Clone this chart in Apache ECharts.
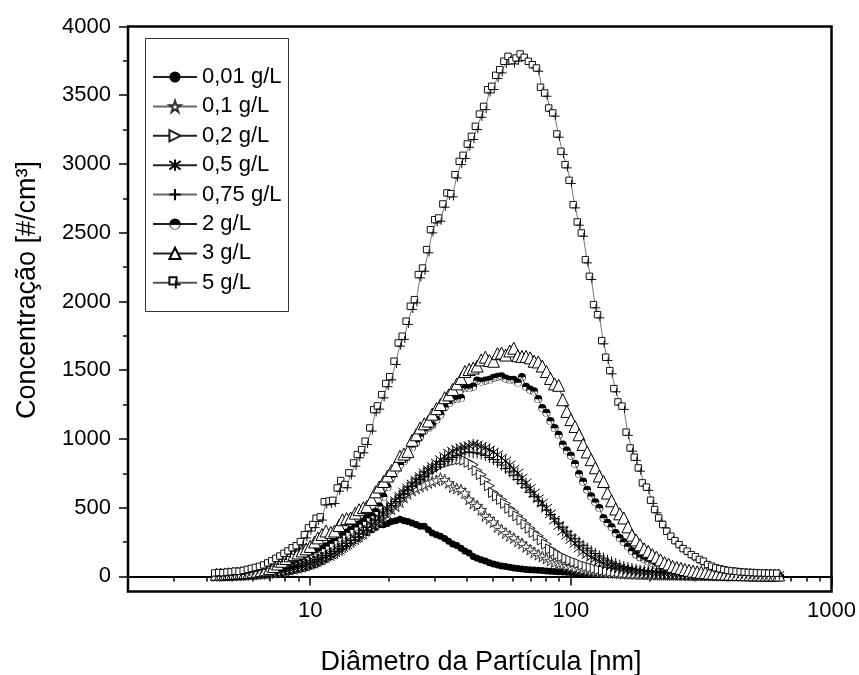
<!DOCTYPE html>
<html>
<head>
<meta charset="utf-8">
<script src="https://cdn.jsdelivr.net/npm/echarts@6/dist/echarts.min.js"></script>
<style>
html,body{margin:0;padding:0;background:#fff;}
#chart{width:859px;height:675px;}
</style>
</head>
<body>
<div id="chart"></div>
<script>
// Particle diameters [nm] (SMPS channels)
const diam = [
 4.37, 4.53, 4.70, 4.87, 5.05, 5.23, 5.42, 5.62, 5.83, 6.04,
 6.26, 6.49, 6.73, 6.98, 7.23, 7.50, 7.77, 8.06, 8.35, 8.66,
 8.98, 9.31, 9.65, 10.0, 10.4, 10.7, 11.1, 11.5, 12.0, 12.4,
 12.9, 13.3, 13.8, 14.3, 14.9, 15.4, 16.0, 16.5, 17.2, 17.8,
 18.4, 19.1, 19.8, 20.5, 21.3, 22.1, 22.9, 23.7, 24.6, 25.5,
 26.4, 27.4, 28.4, 29.4, 30.5, 31.6, 32.8, 34.0, 35.2, 36.5,
 37.9, 39.2, 40.7, 42.2, 43.7, 45.3, 47.0, 48.7, 50.5, 52.3,
 54.2, 56.2, 58.3, 60.4, 62.6, 64.9, 67.3, 69.8, 72.3, 75.0,
 77.7, 80.6, 83.5, 86.6, 89.8, 93.1, 96.5, 100.0, 103.7, 107.5,
 111.4, 115.5, 119.7, 124.1, 128.6, 133.4, 138.2, 143.3, 148.6, 154.0,
 159.6, 165.5, 171.5, 177.8, 184.3, 191.1, 198.1, 205.4, 212.9, 220.7,
 228.8, 237.1, 245.8, 254.8, 264.2, 273.8, 283.9, 294.3, 305.1, 316.2,
 327.8, 339.8, 352.3, 365.2, 378.6, 392.4, 406.8, 421.7, 437.1, 453.2,
 469.8, 487.0, 504.8, 523.3, 542.5, 562.3, 582.9, 604.3, 626.4
];

const c001 = [
 5, 6, 6, 8, 8, 10, 10, 12, 12, 14,
 15, 17, 18, 20, 22, 25, 28, 32, 36, 42,
 48, 56, 62, 73, 82, 95, 109, 125, 145, 165,
 190, 215, 235, 250, 265, 280, 310, 320, 340, 355,
 375, 375, 385, 400, 405, 415, 405, 400, 388, 378,
 365, 364, 340, 315, 303, 291, 275, 255, 235, 225,
 205, 185, 170, 145, 132, 121, 112, 100, 90, 82,
 75, 72, 66, 61, 57, 54, 50, 48, 46, 44,
 42, 40, 37, 35, 33, 31, 30, 28, 27, 26,
 25, 24, 23, 22, 21, 20, 19, 18, 17, 16,
 15, 15, 14, 13, 13, 12, 12, 11, 11, 10,
 10, 9, 9, 8, 8, 8, 7, 7, 7, 6,
 6, 6, 6, 5, 5, 5, 5, 5, 4, 4,
 4, 4, 4, 4, 4, 3, 3, 3, 3
];

const c01 = [
 4, 5, 5, 6, 7, 8, 9, 10, 12, 14,
 16, 18, 20, 24, 28, 32, 36, 42, 48, 55,
 62, 70, 80, 90, 100, 112, 125, 140, 155, 170,
 190, 210, 230, 250, 270, 290, 310, 335, 360, 380,
 405, 430, 455, 490, 510, 540, 575, 600, 625, 640,
 655, 665, 680, 691, 700, 715, 703, 680, 650, 640,
 630, 606, 560, 530, 515, 485, 440, 420, 395, 360,
 340, 315, 295, 279, 255, 240, 215, 195, 175, 158,
 145, 130, 115, 105, 97, 88, 78, 70, 62, 56,
 50, 45, 40, 36, 33, 30, 28, 26, 24, 22,
 20, 19, 18, 17, 16, 15, 14, 13, 12, 12,
 11, 11, 10, 10, 9, 9, 8, 8, 8, 7,
 7, 7, 6, 6, 6, 6, 5, 5, 5, 5,
 5, 5, 4, 4, 4, 4, 4, 4, 4
];

const c02 = [
 4, 5, 5, 6, 7, 8, 9, 10, 12, 14,
 16, 18, 21, 24, 28, 32, 37, 42, 48, 55,
 62, 70, 80, 90, 100, 112, 125, 140, 155, 172,
 190, 210, 230, 250, 270, 292, 315, 340, 365, 390,
 415, 440, 470, 500, 530, 560, 590, 620, 650, 680,
 705, 730, 755, 770, 790, 805, 820, 830, 838, 845,
 850, 845, 830, 812, 770, 740, 700, 660, 610, 585,
 560, 530, 495, 470, 440, 410, 380, 350, 320, 295,
 265, 235, 200, 180, 160, 145, 130, 118, 105, 95,
 82, 72, 64, 56, 49, 43, 38, 34, 31, 28,
 25, 23, 21, 19, 18, 17, 16, 15, 14, 13,
 12, 12, 11, 11, 10, 10, 9, 9, 8, 8,
 8, 7, 7, 7, 6, 6, 6, 6, 5, 5,
 5, 5, 5, 5, 5, 4, 4, 4, 4
];

const c05 = [
 5, 5, 6, 7, 8, 9, 10, 12, 14, 16,
 18, 21, 24, 28, 32, 36, 41, 46, 52, 58,
 65, 73, 82, 92, 102, 114, 127, 141, 156, 172,
 190, 210, 230, 252, 275, 298, 322, 348, 375, 402,
 430, 460, 490, 520, 550, 582, 612, 642, 672, 700,
 727, 752, 776, 800, 825, 850, 873, 897, 910, 925,
 935, 940, 950, 960, 955, 945, 935, 920, 905, 885,
 860, 840, 810, 780, 752, 715, 679, 640, 606, 565,
 533, 495, 455, 410, 370, 330, 300, 268, 240, 205,
 178, 158, 138, 125, 109, 95, 85, 75, 66, 58,
 52, 46, 41, 37, 33, 30, 27, 25, 23, 21,
 19, 18, 17, 16, 15, 14, 13, 12, 12, 11,
 11, 10, 10, 9, 9, 9, 8, 8, 8, 7,
 7, 7, 7, 6, 6, 6, 6, 6, 6
];

const c075 = [
 6, 6, 7, 8, 9, 10, 12, 14, 16, 18,
 21, 24, 27, 31, 35, 40, 45, 51, 57, 64,
 72, 80, 90, 100, 110, 122, 135, 150, 165, 182,
 200, 220, 240, 262, 285, 308, 332, 356, 380, 405,
 432, 460, 488, 515, 545, 572, 600, 628, 655, 680,
 705, 728, 752, 775, 795, 815, 835, 850, 865, 880,
 890, 900, 905, 900, 898, 890, 880, 865, 850, 830,
 810, 785, 760, 735, 705, 675, 645, 612, 580, 548,
 515, 482, 450, 418, 388, 358, 328, 300, 274, 250,
 226, 205, 185, 166, 149, 133, 118, 105, 93, 82,
 72, 64, 57, 51, 46, 41, 37, 33, 30, 27,
 25, 23, 21, 19, 18, 17, 16, 15, 14, 13,
 12, 12, 11, 11, 10, 10, 9, 9, 9, 8,
 8, 8, 8, 7, 7, 7, 7, 7, 7
];

const c2 = [
 8, 9, 10, 12, 14, 16, 18, 21, 24, 28,
 32, 37, 42, 48, 55, 62, 70, 80, 90, 100,
 112, 125, 140, 155, 170, 185, 200, 220, 240, 260,
 280, 300, 320, 340, 360, 380, 400, 425, 440, 470,
 510, 580, 650, 720, 776, 812, 840, 880, 940, 975,
 1018, 1060, 1079, 1100, 1140, 1176, 1230, 1260, 1285, 1290,
 1297, 1370, 1370, 1382, 1425, 1418, 1425, 1430, 1445, 1452,
 1455, 1440, 1430, 1430, 1410, 1450, 1380, 1360, 1346, 1290,
 1225, 1190, 1130, 1080, 1030, 960, 915, 880, 820, 745,
 690, 630, 582, 540, 497, 425, 390, 360, 315, 279,
 250, 218, 185, 160, 140, 125, 110, 97, 85, 75,
 65, 57, 50, 44, 39, 34, 30, 27, 24, 22,
 20, 18, 17, 16, 15, 14, 13, 12, 12, 11,
 11, 10, 10, 10, 9, 9, 9, 9, 9
];

const c3 = [
 15, 16, 18, 20, 22, 24, 26, 28, 30, 34,
 38, 42, 48, 58, 72, 90, 110, 130, 150, 160,
 170, 185, 200, 218, 250, 280, 305, 330, 320, 330,
 370, 412, 420, 425, 460, 485, 500, 509, 560, 615,
 650, 690, 730, 770, 810, 873, 890, 909, 990, 1030,
 1080, 1110, 1130, 1180, 1220, 1250, 1300, 1320, 1360, 1400,
 1440, 1490, 1505, 1515, 1530, 1575, 1595, 1570, 1565, 1620,
 1625, 1610, 1640, 1660, 1605, 1600, 1600, 1590, 1565, 1560,
 1530, 1490, 1440, 1400, 1390, 1285, 1200, 1140, 1090, 1030,
 960, 905, 849, 790, 730, 690, 606, 550, 490, 455,
 425, 360, 300, 265, 230, 200, 182, 158, 140, 120,
 100, 90, 73, 65, 58, 50, 44, 38, 33, 30,
 27, 24, 22, 20, 18, 17, 16, 15, 14, 13,
 12, 12, 11, 11, 10, 10, 10, 10, 10
];

const c5 = [
 12, 15, 14, 18, 20, 25, 24, 30, 38, 45,
 52, 60, 70, 85, 100, 118, 135, 155, 172, 195,
 210, 240, 290, 340, 365, 410, 420, 530, 535, 540,
 630, 684, 655, 740, 812, 873, 909, 970, 1067, 1200,
 1227, 1309, 1390, 1440, 1552, 1685, 1734, 1843, 1952, 2000,
 2182, 2230, 2364, 2509, 2582, 2594, 2696, 2776, 2771, 2909,
 3006, 3050, 3132, 3188, 3261, 3350, 3406, 3527, 3552, 3632,
 3673, 3734, 3770, 3738, 3758, 3787, 3763, 3734, 3709, 3685,
 3545, 3503, 3394, 3358, 3205, 3079, 2982, 2868, 2691, 2565,
 2485, 2291, 2170, 1964, 1891, 1702, 1581, 1484, 1353, 1256,
 1225, 1036, 921, 854, 776, 667, 636, 541, 473, 412,
 364, 315, 279, 247, 218, 189, 170, 145, 130, 110,
 97, 73, 61, 49, 42, 36, 30, 27, 24, 20,
 18, 16, 15, 13, 12, 11, 10, 10, 10
];

const seriesNames = ['0,01 g/L', '0,1 g/L', '0,2 g/L', '0,5 g/L', '0,75 g/L', '2 g/L', '3 g/L', '5 g/L'];
const seriesValues = [c001, c01, c02, c05, c075, c2, c3, c5];

const yTickValues = [0, 500, 1000, 1500, 2000, 2500, 3000, 3500, 4000];
const yMinorTickValues = [250, 750, 1250, 1750, 2250, 2750, 3250, 3750];
const xTickValues = [10, 100, 1000];
const xMinorTickValues = [3, 4, 5, 6, 7, 8, 9, 20, 30, 40, 50, 60, 70, 80, 90, 200, 300, 400, 500, 600, 700, 800, 900];

const FONT = '"Liberation Sans", Arial, sans-serif';

const symStar = 'path://M50 0 L61.8 35.1 L98.1 35.1 L68.8 56.8 L79.4 90.5 L50 69.1 L20.6 90.5 L31.2 56.8 L1.9 35.1 L38.2 35.1 Z';
const symRight = 'path://M0 0 L10 5 L0 10 Z';
const symAst = 'path://M5 0 L5 10 M1.2 1.2 L8.8 8.8 M1.2 8.8 L8.8 1.2';
const symPlus = 'path://M5 0 L5 10 M0 5 L10 5';
const symHalf = 'path://M0 10 A10 10 0 1 1 20 10 A10 10 0 1 1 0 10 Z M1.6 10.6 A8.4 8.4 0 0 0 18.4 10.6 L1.6 10.6 Z';
const symSqPlus = 'path://M0 0 L9 0 L9 9 L0 9 Z M8 4 L8 14 M3 9 L14 9';

const styles = [
  {symbol: 'circle', size: 7, item: {color: '#000', borderColor: '#000', borderWidth: 0}, line: '#222'},
  {symbol: symStar, size: 11, item: {color: '#fff', borderColor: '#333', borderWidth: 1}, line: '#666'},
  {symbol: symRight, size: 10, item: {color: '#fff', borderColor: '#222', borderWidth: 1}, line: '#222'},
  {symbol: symAst, size: 11, item: {color: '#fff', borderColor: '#000', borderWidth: 1}, line: '#222'},
  {symbol: symPlus, size: 11, item: {color: '#fff', borderColor: '#000', borderWidth: 1}, line: '#666'},
  {symbol: symHalf, size: 8, item: {color: '#000', borderColor: '#000', borderWidth: 0}, line: '#222'},
  {symbol: 'triangle', size: 12, item: {color: '#fff', borderColor: '#000', borderWidth: 1}, line: '#222'},
  {symbol: symSqPlus, size: 10, item: {color: '#fff', borderColor: '#111', borderWidth: 1}, line: '#555'}
];

const series = seriesNames.map(function (name, i) {
  const vals = seriesValues[i];
  return {
    name: name,
    type: 'line',
    xAxisIndex: 0,
    yAxisIndex: 0,
    data: diam.map(function (d, j) { return [d, vals[j]]; }),
    symbol: styles[i].symbol,
    symbolSize: styles[i].size,
    showAllSymbol: true,
    itemStyle: styles[i].item,
    lineStyle: {color: styles[i].line, width: 0.8},
    emphasis: {disabled: true},
    z: 2 + i
  };
});

const plainNum = function (v) { return String(v); };

const chart = echarts.init(document.getElementById('chart'), null, {renderer: 'canvas'});
chart.setOption({
  animation: false,
  backgroundColor: '#fff',
  grid: {left: 128, right: 26.6, top: 26.5, bottom: 83.5, show: true, borderColor: '#000', borderWidth: 2.5, backgroundColor: 'transparent'},
  xAxis: [
    {
      type: 'log', logBase: 10, min: 2, max: 1000, position: 'bottom',
      axisLine: {show: true, lineStyle: {color: '#000', width: 2}},
      axisTick: {show: true, inside: false, length: 9, lineStyle: {color: '#000', width: 1.5}, customValues: xTickValues},
      axisLabel: {show: true, margin: 8, fontSize: 22, fontFamily: FONT, color: '#000', customValues: xTickValues, formatter: plainNum},
      splitLine: {show: false}, minorTick: {show: false}
    },
    {
      type: 'log', logBase: 10, min: 2, max: 1000, position: 'bottom',
      axisLine: {show: false},
      axisTick: {show: true, inside: false, length: 5, lineStyle: {color: '#000', width: 1.5}, customValues: xMinorTickValues},
      axisLabel: {show: false},
      splitLine: {show: false}
    }
  ],
  yAxis: [
    {
      type: 'value', min: -110, max: 4000, position: 'left',
      axisLine: {show: true, lineStyle: {color: '#000', width: 2}},
      axisTick: {show: true, inside: false, length: 9, lineStyle: {color: '#000', width: 1.5}, customValues: yTickValues},
      axisLabel: {show: true, margin: 17, fontSize: 22, fontFamily: FONT, color: '#000', customValues: yTickValues, formatter: plainNum},
      splitLine: {show: false}
    },
    {
      type: 'value', min: -110, max: 4000, position: 'left',
      axisLine: {show: false},
      axisTick: {show: true, inside: false, length: 5, lineStyle: {color: '#000', width: 1.5}, customValues: yMinorTickValues},
      axisLabel: {show: false},
      splitLine: {show: false}
    }
  ],
  legend: {
    orient: 'vertical', left: 152, top: 66, padding: 0,
    itemWidth: 44, itemHeight: 14, itemGap: 7.4,
    textStyle: {fontSize: 22, fontFamily: FONT, color: '#000'},
    data: seriesNames
  },
  graphic: [
    {type: 'rect', shape: {x: 145.5, y: 38.5, width: 143, height: 273}, style: {fill: 'none', stroke: '#333', lineWidth: 1}, z: 100},
    {type: 'text', x: 28, y: 290, rotation: Math.PI / 2, style: {text: 'Concentração [#/cm³]', fontSize: 27, fontFamily: FONT, fill: '#000', textAlign: 'center', textVerticalAlign: 'middle'}},
    {type: 'text', x: 481, y: 663, style: {text: 'Diâmetro da Partícula [nm]', fontSize: 27, fontFamily: FONT, fill: '#000', textAlign: 'center', textVerticalAlign: 'middle'}}
  ],
  series: series
});
</script>
</body>
</html>
